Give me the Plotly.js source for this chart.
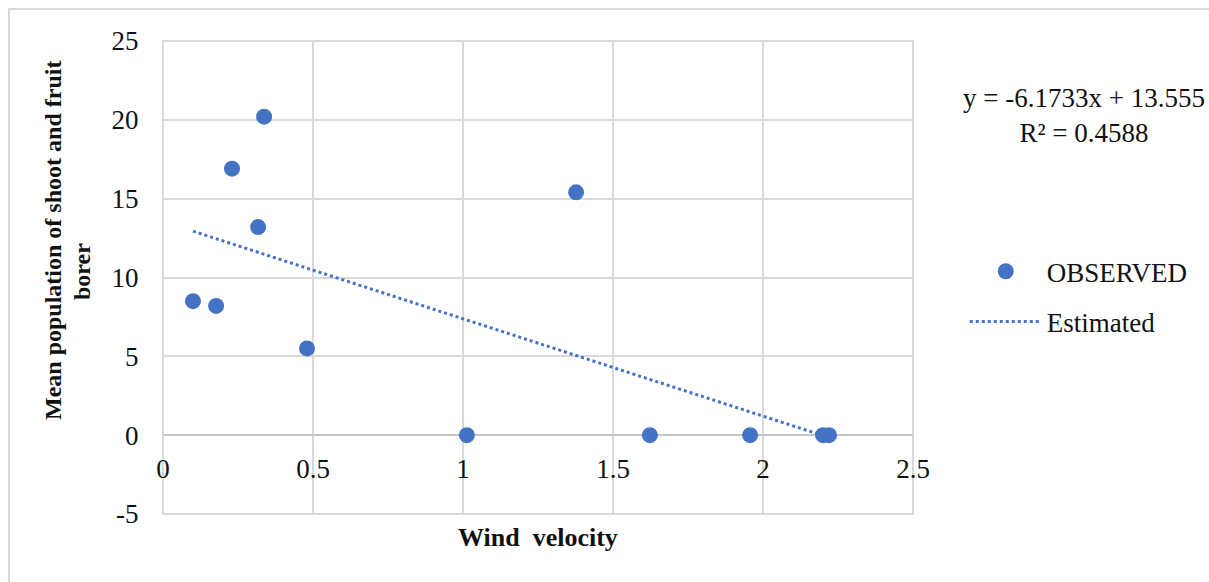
<!DOCTYPE html>
<html>
<head>
<meta charset="utf-8">
<script src="https://cdn.plot.ly/plotly-3.0.1.min.js"></script>
<style>html,body{margin:0;padding:0;background:#fff;}#chart{width:1209px;height:582px;}</style>
</head>
<body>
<div id="chart"></div>
<script>
const windVelocity = [0.10, 0.177, 0.23, 0.317, 0.337, 0.48, 1.013, 1.377, 1.623, 1.957, 2.20, 2.22];
const meanPopulation = [8.5, 8.2, 16.9, 13.2, 20.2, 5.5, 0, 15.4, 0, 0, 0, 0];
// Linear trendline as printed on the chart
const slope = -6.1733;
const intercept = 13.555;
const rSquared = 0.4588;
const trendX = [Math.min(...windVelocity), Math.max(...windVelocity)];
const trendY = trendX.map(x => slope * x + intercept);
const xTicks = [0, 0.5, 1, 1.5, 2, 2.5];
const xTickLabels = ['0', '0.5', '1', '1.5', '2', '2.5'];
const yTicks = [-5, 0, 5, 10, 15, 20, 25];
const yTickLabels = ['-5', '0', '5', '10', '15', '20', '25'];

const blue = '#4472C4';
const font = 'Liberation Serif, Times New Roman, serif';

const traces = [
  {x: windVelocity, y: meanPopulation, type: 'scatter', mode: 'markers', name: 'OBSERVED',
   legendgroup: 'a', marker: {color: blue, size: 16}},
  {x: trendX, y: trendY, type: 'scatter', mode: 'lines', name: 'Estimated',
   legendgroup: 'b', line: {color: blue, dash: 'dot', width: 3}}
];

const layout = {
  width: 1209, height: 582,
  margin: {l: 163, r: 296, t: 41, b: 68},
  paper_bgcolor: '#fff', plot_bgcolor: '#fff',
  font: {family: font, size: 26, color: '#111'},
  xaxis: {range: [0, 2.5], tickvals: xTicks, ticktext: xTickLabels,
    showgrid: true, gridcolor: '#d9d9d9', gridwidth: 2, zeroline: false, showline: false,
    anchor: 'free', position: 5 / 30,
    ticks: 'outside', ticklen: 9, tickcolor: 'rgba(0,0,0,0)',
    tickfont: {family: font, size: 27, color: '#111'}},
  yaxis: {range: [-5, 25], tickvals: yTicks, ticktext: yTickLabels,
    showgrid: true, gridcolor: '#d9d9d9', gridwidth: 2,
    zeroline: true, zerolinecolor: '#c6c6c6', zerolinewidth: 2, showline: false,
    ticks: 'outside', ticklen: 18, tickcolor: 'rgba(0,0,0,0)',
    tickfont: {family: font, size: 27, color: '#111'}},
  showlegend: true,
  legend: {x: 1.069, y: 0.564, xanchor: 'left', yanchor: 'top', bgcolor: 'rgba(0,0,0,0)',
    font: {family: font, size: 27, color: '#111'}, tracegroupgap: 12, itemwidth: 72},
  shapes: [
    {type: 'rect', xref: 'paper', yref: 'paper', x0: 0, x1: 1, y0: 0, y1: 1,
     line: {color: '#d9d9d9', width: 2}, layer: 'below'},
    {type: 'rect', xref: 'paper', yref: 'paper', x0: (9 - 163) / 750, x1: 2, y0: -1, y1: (514 - 9) / 473,
     line: {color: '#d9d9d9', width: 2}, layer: 'below'}
  ],
  annotations: [
    {xref: 'paper', yref: 'paper', x: 0.5, y: (514 - 537) / 473, xanchor: 'center', yanchor: 'middle',
     text: '<b>Wind  velocity</b>', showarrow: false, font: {family: font, size: 26, color: '#111'}},
    {xref: 'paper', yref: 'paper', x: (53 - 163) / 750, y: (514 - 241) / 473, xanchor: 'center', yanchor: 'middle',
     textangle: -90, text: '<b>Mean population of shoot and fruit</b>', showarrow: false,
     font: {family: font, size: 24, color: '#111'}},
    {xref: 'paper', yref: 'paper', x: (82 - 163) / 750, y: (514 - 272) / 473, xanchor: 'center', yanchor: 'middle',
     textangle: -90, text: '<b>borer</b>', showarrow: false,
     font: {family: font, size: 24, color: '#111'}},
    {xref: 'paper', yref: 'paper', x: (1084 - 163) / 750, y: (514 - 115) / 473, xanchor: 'center', yanchor: 'middle',
     text: 'y = ' + slope + 'x + ' + intercept + '<br>R² = ' + rSquared, showarrow: false,
     font: {family: font, size: 27, color: '#111'}}
  ]
};

Plotly.newPlot('chart', traces, layout, {displayModeBar: false, staticPlot: true});
</script>
</body>
</html>
